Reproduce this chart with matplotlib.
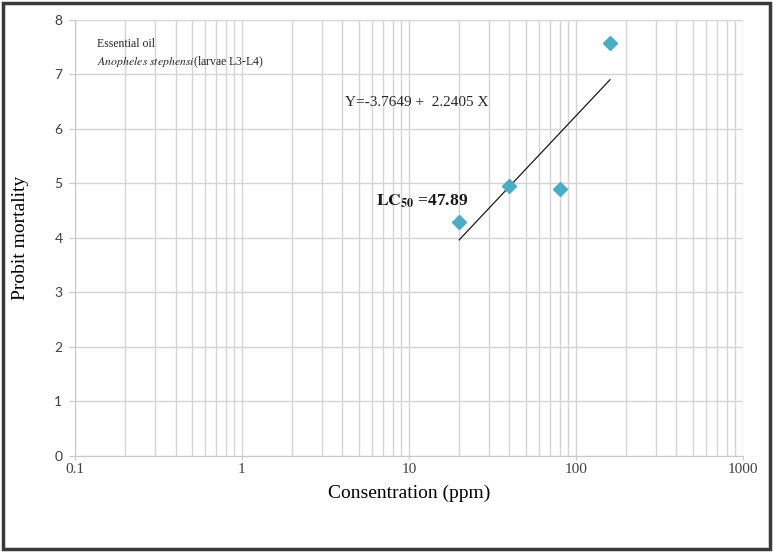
import matplotlib
matplotlib.use("Agg")
import matplotlib.pyplot as plt
import numpy as np
from matplotlib.patches import Rectangle
from matplotlib.ticker import LogLocator, NullFormatter, FixedLocator

# data
concentration_ppm = [20, 40, 80, 160]
probit_mortality = [4.3, 4.95, 4.9, 7.58]
x_tick_values = [0.1, 1, 10, 100, 1000]
x_tick_labels = ["0.1", "1", "10", "100", "1000"]
y_tick_values = [0, 1, 2, 3, 4, 5, 6, 7, 8]
equation_text = "Y=-3.7649 +  2.2405 X"
lc50_value = 47.89

plt.rcParams["mathtext.fontset"] = "stix"
serif = "Liberation Serif"
sans = "Lato"

fig = plt.figure(figsize=(7.73, 5.52), dpi=100)
ax = fig.add_axes([0.097, 0.174, 0.864, 0.790])

ax.set_xscale("log")
ax.set_xlim(0.1, 1000)
ax.set_ylim(0, 8)

ax.xaxis.set_major_locator(FixedLocator(x_tick_values))
ax.set_xticks(x_tick_values)
ax.set_xticklabels(x_tick_labels, family=serif, fontsize=11, color="#404040")
ax.xaxis.set_minor_locator(LogLocator(base=10, subs=np.arange(2, 10)))
ax.xaxis.set_minor_formatter(NullFormatter())
ax.set_yticks(y_tick_values)
ax.set_yticklabels([str(v) for v in y_tick_values], family=sans, fontsize=10, color="#404040")

ax.grid(True, which="major", axis="both", color="#d4d4d4", linewidth=1.0)
ax.grid(True, which="minor", axis="x", color="#d4d4d4", linewidth=1.0)
ax.set_axisbelow(True)
for side in ("top", "right"):
    ax.spines[side].set_visible(False)
for side in ("left", "bottom"):
    ax.spines[side].set_color("#c8c8c8")
ax.tick_params(axis="y", which="major", length=4, color="#c8c8c8", pad=5)
ax.tick_params(axis="x", which="major", length=3, color="#c8c8c8", pad=2)
ax.tick_params(axis="x", which="minor", length=0)

# trendline: linear fit of probit vs log10 concentration
log_x = np.log10(concentration_ppm)
slope, intercept = np.polyfit(log_x, probit_mortality, 1)
fit_x = np.array([concentration_ppm[0], concentration_ppm[-1]])
ax.plot(fit_x, intercept + slope * np.log10(fit_x), color="#1a1a1a", linewidth=0.9, zorder=3)

ax.plot(concentration_ppm, probit_mortality, linestyle="none", marker="D",
        markersize=7.5, color="#4bacc6", markeredgecolor="#4bacc6", zorder=4)

ax.set_xlabel("Consentration (ppm)", family=serif, fontsize=14, labelpad=6)
ax.set_ylabel("Probit mortality", family=serif, fontsize=14, labelpad=18)

ax.text(0.033, 0.945, "Essential oil", transform=ax.transAxes, family=serif,
        fontsize=8.5, va="center", ha="left", color="#262626")
ax.text(0.033, 0.903, r"$\it{Anopheles\ stephensi}$(larvae L3-L4)", transform=ax.transAxes,
        family=serif, fontsize=8.5, va="center", ha="left", color="#262626")
ax.text(0.404, 0.81, equation_text, transform=ax.transAxes, family=serif,
        fontsize=11, va="center", ha="left", color="#262626")
ax.text(0.45, 0.583, r"$\mathbf{LC_{50}}$" + f" ={lc50_value:.2f}", transform=ax.transAxes,
        family=serif, fontsize=12.5, fontweight="bold", va="center", ha="left", color="#1a1a1a")

# dark outer frame
fig.patches.append(Rectangle((0.004, 0.005), 0.992, 0.99, transform=fig.transFigure,
                             fill=False, edgecolor="#3a3a3a", linewidth=2.5))

fig.savefig("out.png", dpi=100)
